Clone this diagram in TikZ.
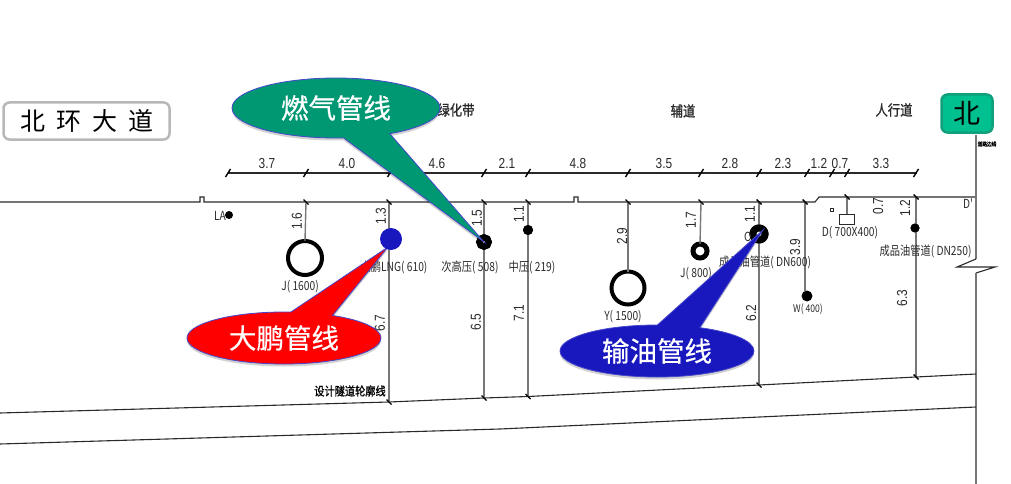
\documentclass[tikz,border=0pt]{standalone}
\usepackage{fontspec}
\usetikzlibrary{shapes.callouts,shadows}
\newfontfamily\cjkmain{Noto Sans CJK SC}
\newfontfamily\callf[FakeBold=0.6]{Noto Sans CJK SC}
\newfontfamily\cadf[FakeStretch=0.82]{Noto Sans CJK SC}
\newfontfamily\cadb[FakeStretch=0.85,FakeBold=1.2]{Noto Sans CJK SC}
\newfontfamily\numf[FakeStretch=0.82]{Liberation Sans}
\definecolor{cadline}{HTML}{777777}
\definecolor{cadink}{HTML}{2A2A2A}
\definecolor{callblue}{HTML}{1818BE}
\definecolor{callgreen}{HTML}{009873}
\tikzset{
  x=1pt,y=-1pt,
  cadv/.style={draw=cadline,line width=1.4pt},
  cadk/.style={draw=cadink,line width=1.1pt},
  tickm/.style={draw=black,line width=1.4pt},
  num/.style={font=\numf\fontsize{14.5}{15}\selectfont,text=cadink,inner sep=0pt},
  numr/.style={num,rotate=90},
  lab/.style={font=\cadf\fontsize{12.5}{13}\selectfont,text=cadink,inner sep=0pt},
  labb/.style={font=\cadb\fontsize{5.5}{6}\selectfont,text=black,inner sep=0pt},
  zone/.style={font=\cadb\fontsize{14.5}{16}\selectfont,text=cadink,inner sep=0pt},
  ring/.style={circle,draw=black,fill=white,inner sep=0pt,outer sep=0pt},
  blob/.style={circle,fill=black,inner sep=0pt,outer sep=0pt},
  callbase/.style={ellipse callout,draw=callblue!80!white,line width=.8pt,inner sep=0pt,
    minimum width=#1,text=white,font=\callf\fontsize{27.5}{28}\selectfont,
    drop shadow={shadow xshift=0pt,shadow yshift=-2.5pt,opacity=.18,fill=black}},
}
\begin{document}
\begin{tikzpicture}
\useasboundingbox (0,0) rectangle (1011,484);
% ground line
\coordinate (gl0) at (0,202); \coordinate (gl1) at (815,202); \coordinate (gl2) at (819,197); \coordinate (gl3) at (976,197);
\coordinate (n1a) at (200,202); \coordinate (n1b) at (200,197); \coordinate (n1c) at (204,197); \coordinate (n1d) at (204,202);
\coordinate (n2a) at (574,202); \coordinate (n2b) at (574,197); \coordinate (n2c) at (578,197); \coordinate (n2d) at (578,202);
\draw[cadk] (gl0) -- (n1a) -- (n1b) -- (n1c) -- (n1d) -- (n2a) -- (n2b) -- (n2c) -- (n2d) -- (gl1) -- (gl2) -- (gl3);
% right edge
\coordinate (ra) at (976,135); \coordinate (rb) at (976,259); \coordinate (rc) at (957,267); \coordinate (rd) at (995,267);
\coordinate (re) at (976,273); \coordinate (rg) at (976,484);
\draw[cadv] (ra) -- (rb);
\draw[cadk] (rb) -- (rc) -- (rd) -- (re);
\draw[cadv] (re) -- (rg);
% tunnel lines
\coordinate (ta) at (0,413); \coordinate (tb) at (389,402); \coordinate (tc) at (484,398); \coordinate (td) at (528,396.5);
\coordinate (te) at (759,385); \coordinate (tf) at (916,377); \coordinate (tg) at (976,374);
\coordinate (ua) at (0,444); \coordinate (ub) at (500,429); \coordinate (uc) at (976,407);
\draw[cadk] (ta) -- (tb) -- (tc) -- (td) -- (te) -- (tf) -- (tg);
\draw[cadk] (ua) -- (ub) -- (uc);
% dimension line
\coordinate (da) at (228,173); \coordinate (db) at (917,173);
\draw[cadk] (da) -- (db);
\foreach \x in {228,306,390,484,528,628,701,759,807,832,847,916}
  \draw[tickm] (\x-2.5,177) -- (\x+2.5,169);
\foreach \x/\t in {267/3.7,347/4.0,437/4.6,507/2.1,578/4.8,664/3.5,730/2.8,783/2.3,819/1.2,840/0.7,881/3.3}
  \node[num] at (\x,163.5) {\t};
% pipes
\node[ring,line width=4pt,minimum width=33pt,minimum height=34pt] (pJa) at (305,258) {};
\node[ring,line width=4pt,minimum size=33pt] (pY) at (628,288) {};
\node[ring,line width=5pt,minimum size=14pt] (pJb) at (700,251) {};
\node[ring,line width=6.5pt,minimum size=9pt] (pCi) at (484,242) {};
\node[ring,line width=7pt,minimum size=12pt] (pOil) at (759,234) {};
\node[ring,line width=5.5pt,minimum size=5pt] (pW) at (807,296) {};
\node[blob,minimum size=10pt] (pZ) at (528,230) {};
\node[blob,minimum size=9pt] (pOs) at (915,228) {};
\node[blob,minimum size=8pt] (pLA) at (229,215) {};
\node[draw=cadink,line width=1pt,minimum width=15pt,minimum height=10pt,inner sep=0pt] (pD) at (847,219) {};
\node[draw=cadink,line width=.8pt,minimum size=3.5pt,inner sep=0pt] (pDs) at (832,210) {};
% vertical connectors
\coordinate (g1) at (306,202); \coordinate (g2) at (389,202); \coordinate (g3) at (484,202); \coordinate (g4) at (528,202);
\coordinate (g5) at (628,202); \coordinate (g6) at (701,202); \coordinate (g7) at (759,202); \coordinate (g8) at (805,202);
\coordinate (g9) at (847,197); \coordinate (g10) at (916,197);
\coordinate (w8) at (805,291);
\draw[cadv] (g1) -- (pJa.north);
\draw[cadv] (g2) -- (tb);
\draw[cadv] (g3) -- (tc);
\draw[cadv] (g4) -- (td);
\draw[cadv] (g5) -- (pY.north);
\draw[cadv] (g6) -- (pJb.north);
\draw[cadv] (g7) -- (te);
\draw[cadv,line width=1.1pt] (g8) -- (w8);
\draw[cadv] (g9) -- (pD.north);
\draw[cadv] (g10) -- (tf);
\node[ring,line width=6.5pt,minimum size=9pt] at (pCi) {};
\node[ring,line width=7pt,minimum size=12pt] at (pOil) {};
\node[blob,minimum size=10pt] at (pZ) {};
\node[blob,minimum size=9pt] at (pOs) {};
\foreach \x/\y in {306/202,389/202,484/202,528/202,628/202,701/202,759/202,805/202,847/197,916/197,389/402,484/398,528/396.5,759/385,916/377}
  \draw[tickm] (\x-2.5,\y-2.5) -- (\x+2.5,\y+2.5);
% rotated dimensions
\foreach \x/\y/\t in {297/221/1.6,381/216/1.3,477/218/1.5,519/214/1.1,622/236/2.9,691/220/1.7,750/214/1.1,795/247/3.9,878/206/0.7,905/208/1.2,380/323/6.7,476/322/6.5,519/313/7.1,751/313/6.2,902/298/6.3}
  \node[numr] at (\x,\y) {\t};
% labels
\node[lab] (lLA) at (220,216) {LA};
\node[lab] (lJa) at (300,287) {J( 1600)};
\node[lab] (lLNG) at (394,267) {大鹏LNG( 610)};
\node[lab] (lCi) at (470,267) {次高压( 508)};
\node[lab] (lZ) at (532,267) {中压( 219)};
\node[lab] (lY) at (623,317) {Y( 1500)};
\node[lab] (lJb) at (696,274) {J( 800)};
\node[lab] (lO) at (748,237) {O};
\node[lab] (lOil) at (765,262) {成品油管道( DN600)};
\node[lab,font=\cadf\fontsize{10.5}{11}\selectfont] (lW) at (808,309) {W( 400)};
\node[lab] (lD) at (850,233) {D( 700X400)};
\node[lab] (lOs) at (925.5,251) {成品油管道( DN250)};
\node[lab] (lDp) at (968,204) {D'};
\node[labb] (lBd) at (987,144) {道路边线};
\node[labb,font=\cadb\fontsize{12}{13}\selectfont] (lTn) at (350,391) {设计隧道轮廓线};
\node[zone] (zA) at (456,110) {绿化带};
\node[zone] (zB) at (683,111) {辅道};
\node[zone] (zC) at (894,110) {人行道};
% title boxes
\node[draw=black!28,line width=2.5pt,rounded corners=6pt,fill=white,minimum width=166pt,minimum height=37pt,inner sep=0pt,font=\cjkmain\fontsize{25}{26}\selectfont,text=black] (road) at (86.5,121) {北\hspace{11pt}环\hspace{11pt}大\hspace{11pt}道};
\definecolor{northfill}{HTML}{00C08F}
\definecolor{northedge}{HTML}{12A07C}
\node[draw=northedge,fill=northfill,line width=2.5pt,rounded corners=6pt,minimum width=51pt,minimum height=38pt,inner sep=0pt,font=\cjkmain\fontsize{27}{28}\selectfont,text=black] (north) at (967,113.5) {北};
% callouts
\node[callbase=208pt,minimum height=60pt,fill=callgreen,callout absolute pointer={(pCi.center)},callout pointer arc=27] (cG) at (336,108) {燃气管线};
\node[callbase=194pt,minimum height=52pt,fill=red,callout absolute pointer={(388,247)},callout pointer arc=26] (cR) at (284,338) {大鹏管线};
\node[circle,fill=callblue,inner sep=0pt,minimum size=22pt] (pLNG) at (391,239) {};
\node[callbase=194pt,minimum height=52pt,fill=callblue,callout absolute pointer={(763,230)},callout pointer arc=26] (cB) at (657,351) {输油管线};
\end{tikzpicture}
\end{document}
